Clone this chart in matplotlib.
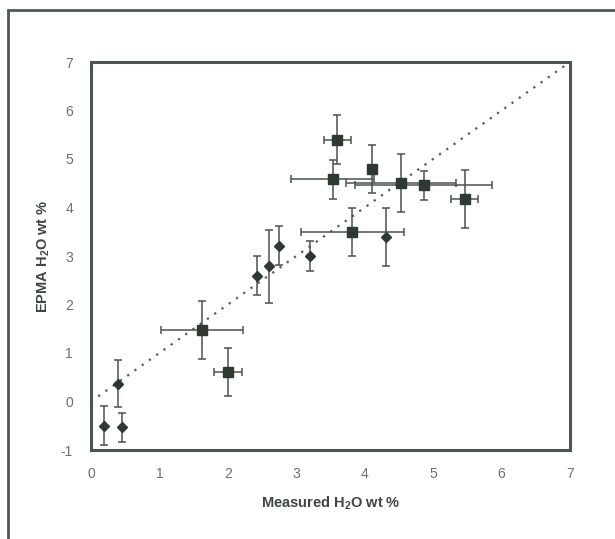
import matplotlib
matplotlib.use("Agg")
from matplotlib import pyplot as plt
from matplotlib.patches import Rectangle

plt.rcParams["font.family"] = ["Liberation Sans", "DejaVu Sans"]
plt.rcParams["axes.unicode_minus"] = False
plt.rcParams["mathtext.fontset"] = "custom"
plt.rcParams["mathtext.rm"] = "Liberation Sans"
plt.rcParams["mathtext.bf"] = "Liberation Sans:bold"

# diamonds: EPMA vs measured, only y error
dia_x = [0.19, 0.40, 0.46, 2.42, 2.60, 2.75, 3.20, 4.31]
dia_y = [-0.50, 0.37, -0.53, 2.59, 2.79, 3.21, 3.00, 3.40]
dia_yerr = [0.40, 0.48, 0.30, 0.40, 0.75, 0.40, 0.30, 0.60]

# squares: both x and y error
sq_x = [1.62, 2.00, 3.53, 3.60, 3.82, 4.10, 4.53, 4.86, 5.46]
sq_y = [1.47, 0.61, 4.58, 5.40, 3.50, 4.79, 4.50, 4.46, 4.17]
sq_xerr = [0.60, 0.20, 0.60, 0.20, 0.75, 0.00, 0.80, 1.00, 0.20]
sq_yerr = [0.60, 0.50, 0.40, 0.50, 0.50, 0.50, 0.60, 0.30, 0.60]

line_x = [0, 7]
line_y = [0, 7]

col = "#2e3a31"
txt = "#6a706c"

fig = plt.figure(figsize=(6.15, 5.39), dpi=100)
fig.patches.append(Rectangle((8 / 615, -0.1), 1.1, 1 - 10 / 539 + 0.1,
                             transform=fig.transFigure, fill=False,
                             edgecolor="#4f5a52", linewidth=2.0))

ax = fig.add_axes([91 / 615, 1 - 450 / 539, 479 / 615, 388 / 539])

ax.plot(line_x, line_y, linestyle=(0, (1, 3)), color="#555c57", linewidth=1.6)

ax.errorbar(sq_x, sq_y, xerr=sq_xerr, yerr=sq_yerr, fmt="s", color=col,
            markersize=7, ecolor="#4a524c", elinewidth=1.1, capsize=3,
            capthick=1.1)
ax.errorbar(dia_x, dia_y, yerr=dia_yerr, fmt="D", color=col,
            markersize=5, ecolor="#4a524c", elinewidth=1.1, capsize=3,
            capthick=1.1)

ax.set_xlim(0, 7)
ax.set_ylim(-1, 7)
ax.set_xticks(range(0, 8))
ax.set_yticks(range(-1, 8))
ax.tick_params(length=0, labelsize=10, labelcolor=txt)
ax.tick_params(axis="x", pad=12)
ax.tick_params(axis="y", pad=13)
for s in ax.spines.values():
    s.set_linewidth(2.2)
    s.set_color("#4a554d")

ax.set_xlabel(r"Measured H$_\mathbf{2}$O wt %", fontsize=10.5, fontweight="bold",
              color="#3e4640", labelpad=10)
ax.set_ylabel(r"EPMA H$_\mathbf{2}$O wt %", fontsize=10.5, fontweight="bold",
              color="#3e4640", labelpad=6)

fig.savefig("out.png", dpi=100)
